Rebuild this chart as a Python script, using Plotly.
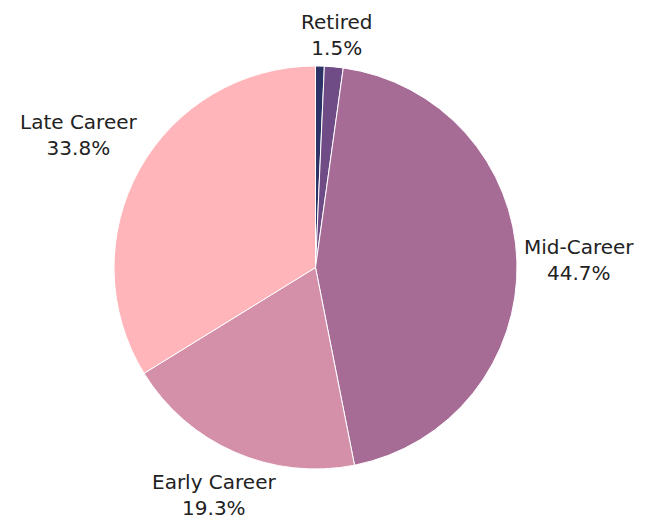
import math
import plotly.graph_objects as go

labels = ["Other", "Retired", "Mid-Career", "Early Career", "Late Career"]
values = [0.7, 1.5, 44.7, 19.3, 33.8]
colors = ["#2D3366", "#6F4C85", "#A66C96", "#D48FA9", "#FFB5BA"]
show_label = [False, True, True, True, True]

FONT = "Century Gothic, DejaVu Sans, sans-serif"
FS = 20

W, H = 660, 523
ML, MR, MT, MB = 114, 143, 66, 54
side = W - ML - MR  # pie diameter in px (square domain)

fig = go.Figure(go.Pie(
    labels=labels,
    values=values,
    textinfo="none",
    sort=False,
    direction="clockwise",
    rotation=0,
    marker=dict(colors=colors, line=dict(color="white", width=1)),
    showlegend=False,
    hoverinfo="label+percent",
))

# outside labels placed along each slice's mid-angle, clearing the circle
total = sum(values)
cum = 0.0
annotations = []
for lab, v, s in zip(labels, values, show_label):
    mid = (cum + v / 2) / total * 2 * math.pi
    cum += v
    if not s:
        continue
    pct = f"{v / total * 100:.1f}%"
    text = f"{lab}<br>{pct}"
    bw = max(len(lab), len(pct)) * 0.53 * FS
    bh = 2.0 * FS
    sx, cy = math.sin(mid), math.cos(mid)
    half = abs(sx) * bw / 2 + abs(cy) * bh / 2
    dist = 0.5 + (9 + half) / side
    y = 0.5 + dist * cy
    # keep the full text box (2 lines) inside the figure
    min_y = -(MB - 1.3 * FS - 2) / side
    y = max(y, min_y)
    annotations.append(dict(
        x=0.5 + dist * sx, y=y,
        xref="paper", yref="paper",
        xanchor="center", yanchor="middle",
        text=text, showarrow=False, align="center", borderpad=0,
        font=dict(family=FONT, size=FS, color="#222222"),
    ))

fig.update_layout(
    width=W,
    height=H,
    margin=dict(l=ML, r=MR, t=MT, b=MB),
    paper_bgcolor="white",
    plot_bgcolor="white",
    font=dict(family=FONT, size=FS, color="#222222"),
    annotations=annotations,
)

fig.write_html("out.html")
